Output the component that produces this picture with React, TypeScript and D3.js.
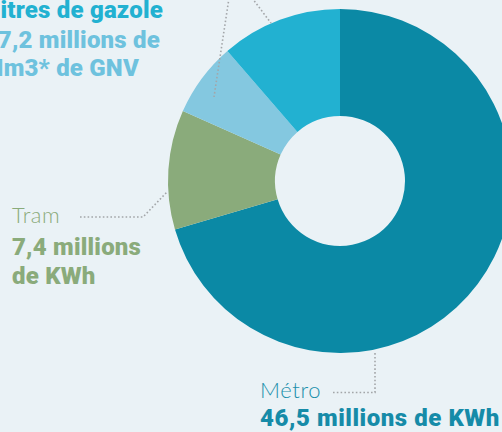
import React from "react";
import * as d3 from "d3";

const categories = ["Métro", "Tram", "GNV", "Gazole"];
const sliceValues = [46.5, 7.4, 4.6, 7.5];
const sliceColors = ["#0b89a5", "#8aab7b", "#84c8e0", "#22b1d1"];

const W = 502;
const H = 432;
const CX = 340;
const CY = 181;
const R_OUT = 172;
const R_IN = 65;

const BOLD = "Roboto, 'Liberation Sans', sans-serif";
const LIGHT = "Lato, 'Open Sans', sans-serif";
const BOLD_SIZE = 24;
const BOLD_LS = 0.2;

export default function App() {
  const pie = d3.pie<number>().sort(null).value((d) => d);
  const arcs = pie(sliceValues);
  const arcGen = d3.arc<d3.PieArcDatum<number>>().innerRadius(R_IN).outerRadius(R_OUT);

  const dot = { fill: "none", stroke: "#a3a6a9", strokeWidth: 1.6, strokeDasharray: "1.6 2.2" };
  const bold = { fontFamily: BOLD, fontWeight: 900, fontSize: BOLD_SIZE, letterSpacing: BOLD_LS };

  return (
    <svg
      width={W}
      height={H}
      viewBox={`0 0 ${W} ${H}`}
      style={{ position: "absolute", left: 0, top: 0, background: "#eaf2f6" }}
    >
      <rect x={0} y={0} width={W} height={H} fill="#eaf2f6" />
      <g transform={`translate(${CX},${CY})`}>
        {arcs.map((a, i) => (
          <path key={categories[i]} d={arcGen(a) || ""} fill={sliceColors[i]} />
        ))}
      </g>

      {/* leader lines */}
      <path d="M229,-2 L214,97" {...dot} />
      <path d="M252,-2 L271,23" {...dot} />
      <path d="M80,217 L143,217 L167,192" {...dot} />
      <path d="M333,392.5 L375,392.5 L375,352" {...dot} />

      {/* top-left labels */}
      <text x={163} y={18} textAnchor="end" {...bold} fill="#22b1d1">
        litres de gazole
      </text>
      <text x={160} y={48} textAnchor="end" {...bold} fill="#6ec2de">
        7,2 millions de
      </text>
      <text x={139} y={76} textAnchor="end" {...bold} fill="#6ec2de">
        Nm3* de GNV
      </text>

      {/* Tram */}
      <text x={12} y={223} fontFamily={LIGHT} fontWeight={300} fontSize={22} letterSpacing={0.6} fill="#8aab7b">
        Tram
      </text>
      <text x={12} y={255} {...bold} fill="#8aab7b">
        7,4 millions
      </text>
      <text x={12} y={284} {...bold} fill="#8aab7b">
        de KWh
      </text>

      {/* Métro */}
      <text x={260} y={398} fontFamily={LIGHT} fontWeight={300} fontSize={22} letterSpacing={0.6} fill="#1b8fab">
        Métro
      </text>
      <text x={260} y={426} {...bold} letterSpacing={0.55} fill="#168ba8">
        46,5 millions de KWh
      </text>
    </svg>
  );
}
